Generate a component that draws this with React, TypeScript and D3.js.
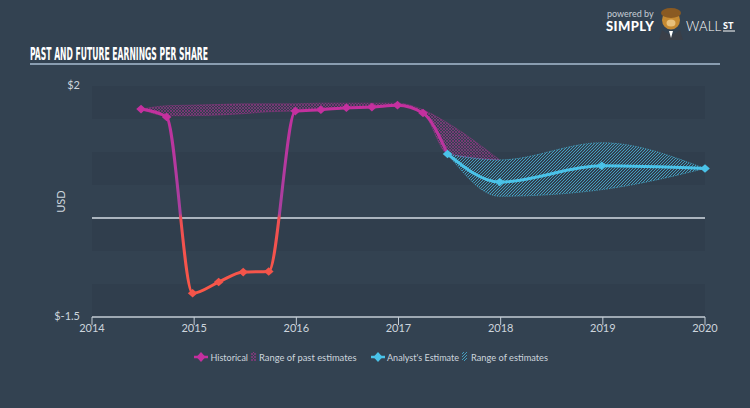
import React from "react";
import * as d3 from "d3";

const histDates = [2014.48, 2014.73, 2014.985, 2015.24, 2015.48, 2015.73, 2015.99, 2016.24, 2016.49, 2016.74, 2016.99, 2017.24, 2017.48];
const histValues = [1.65, 1.53, -1.14, -0.97, -0.82, -0.81, 1.62, 1.64, 1.67, 1.68, 1.71, 1.59, 0.97];

const pastRangeDates = [2014.48, 2014.73, 2014.985, 2015.24, 2015.48, 2015.73, 2015.99, 2016.24, 2016.49, 2016.74, 2016.99, 2017.24, 2017.48, 2017.99];
const pastRangeUpper = [1.65, 1.70, 1.71, 1.72, 1.73, 1.73, 1.73, 1.74, 1.74, 1.74, 1.74, 1.64, 1.44, 0.88];
const pastRangeLower = [1.65, 1.55, 1.55, 1.56, 1.58, 1.61, 1.62, 1.64, 1.67, 1.68, 1.71, 1.59, 0.97, 0.88];

const estDates = [2017.48, 2017.99, 2018.99, 2020.0];
const estValues = [0.97, 0.545, 0.79, 0.75];
const estUpper = [0.97, 0.88, 1.14, 0.75];
const estLower = [0.97, 0.33, 0.43, 0.75];

const yearTicks = [2014, 2015, 2016, 2017, 2018, 2019, 2020];
const yTickValues = [2, -1.5];
const yTickLabels = ["$2", "$-1.5"];

const W = 750;
const H = 408;
const BG = "#334251";
const MAG = "#c4309f";
const RED = "#f4544a";
const CYAN = "#4ac2e8";
const TXT = "#cdd5dd";

export default function App() {
  const x = d3.scaleLinear().domain([2014, 2020]).range([92, 705]);
  const y = d3.scaleLinear().domain([-1.5, 2]).range([317, 86]);

  const line = d3
    .line<[number, number]>()
    .x((d) => x(d[0]))
    .y((d) => y(d[1]))
    .curve(d3.curveMonotoneX);
  const area = d3
    .area<[number, number, number]>()
    .x((d) => x(d[0]))
    .y0((d) => y(d[2]))
    .y1((d) => y(d[1]))
    .curve(d3.curveMonotoneX);

  const histPts = histDates.map((d, i) => [d, histValues[i]] as [number, number]);
  const estPts = estDates.map((d, i) => [d, estValues[i]] as [number, number]);
  const pastRange = pastRangeDates.map((d, i) => [d, pastRangeUpper[i], pastRangeLower[i]] as [number, number, number]);
  const estRange = estDates.map((d, i) => [d, estUpper[i], estLower[i]] as [number, number, number]);

  const diamond = (cx: number, cy: number, w = 4.8, h = 4.3) =>
    `M${cx - w},${cy}L${cx},${cy - h}L${cx + w},${cy}L${cx},${cy + h}Z`;

  const bands = d3.range(7).map((i) => ({ y0: 2 - i * 0.5, y1: 2 - (i + 1) * 0.5, i }));
  const zeroOff = (y(2) - y(0)) / (y(2) - y(-1.5));

  return (
    <svg width={W} height={H} style={{ display: "block", position: "absolute", left: 0, top: 0 }}>
      <defs>
        <linearGradient id="histGrad" gradientUnits="userSpaceOnUse" x1={0} y1={y(2)} x2={0} y2={y(-1.5)}>
          <stop offset={0} stopColor="#c92d9e" />
          <stop offset={zeroOff - 0.02} stopColor="#a8409f" />
          <stop offset={zeroOff} stopColor="#ee4f52" />
          <stop offset={1} stopColor="#ff5a44" />
        </linearGradient>
        <pattern id="pastHatch" patternUnits="userSpaceOnUse" width={3} height={3}>
          <path d="M0,3L3,0M0,0L3,3" stroke={MAG} strokeWidth={0.6} opacity={0.75} />
        </pattern>
        <pattern id="estHatch" patternUnits="userSpaceOnUse" width={3} height={3}>
          <path d="M-1,1L1,-1M0,3L3,0M2,4L4,2" stroke={CYAN} strokeWidth={0.8} opacity={0.9} />
        </pattern>
      </defs>
      <rect x={0} y={0} width={W} height={H} fill={BG} />

      {/* logo */}
      <g fontFamily="Lato, 'Open Sans', sans-serif">
        <text x={607} y={17} fontSize={9} fill="#c6ced6">powered by</text>
        <text x={606} y={31} fontSize={13} fontWeight={900} fill="#ffffff" letterSpacing={0.4}>SIMPLY</text>
        <g>
          <ellipse cx={671} cy={20} rx={9} ry={9.5} fill="#c58a32" />
          <ellipse cx={671} cy={13} rx={10} ry={5} fill="#8a5a22" />
          <ellipse cx={671} cy={23} rx={4.5} ry={3.5} fill="#e8c07a" />
          <path d="M662,30 L671,36 L680,30 L683,40 L659,40 Z" fill="#3a3f48" />
          <path d="M669,31 L671,38 L673,31 Z" fill="#ffffff" />
        </g>
        <text x={686} y={31} fontSize={13} fontWeight={300} fill="#ffffff" textLength={35} lengthAdjust="spacing">WALL</text>
        <text x={723} y={29} fontSize={9} fontWeight={900} fill="#ffffff">ST</text>
        <line x1={723} y1={31} x2={735} y2={31} stroke="#ffffff" strokeWidth={1} />
      </g>

      {/* title */}
      <text
        x={30}
        y={59.5}
        fontSize={17}
        fontWeight="bold"
        fill="#ffffff"
        fontFamily="'Liberation Sans Narrow', 'DejaVu Sans Condensed', sans-serif"
        textLength={178}
        lengthAdjust="spacingAndGlyphs"
      >
        PAST AND FUTURE EARNINGS PER SHARE
      </text>
      <line x1={30} y1={64} x2={720} y2={64} stroke="#a9bdd0" strokeWidth={1.6} />

      {/* bands */}
      {bands.map((b) => (
        <rect
          key={b.i}
          x={x(2014)}
          y={y(b.y0)}
          width={x(2020) - x(2014)}
          height={y(b.y1) - y(b.y0)}
          fill={b.i % 2 === 0 ? "#303e4d" : "#334251"}
        />
      ))}

      {/* y labels */}
      <g fontFamily="Lato, 'Open Sans', sans-serif" fontSize={11} fill={TXT}>
        {yTickValues.map((v, i) => (
          <text key={v} x={80} y={y(v) + 3} textAnchor="end">
            {yTickLabels[i]}
          </text>
        ))}
        <text x={0} y={0} transform={`translate(65,${y(0.25)}) rotate(-90)`} textAnchor="middle">
          USD
        </text>
      </g>

      {/* zero line */}
      <line x1={x(2014)} x2={x(2020)} y1={y(0)} y2={y(0)} stroke="#d5dde5" strokeWidth={1.5} />

      {/* x axis */}
      <line x1={x(2014)} x2={x(2020)} y1={y(-1.5)} y2={y(-1.5)} stroke="#c3ccd5" strokeWidth={1.5} />
      <g fontFamily="Lato, 'Open Sans', sans-serif" fontSize={11} fill={TXT}>
        {yearTicks.map((t) => (
          <g key={t}>
            <line x1={x(t)} x2={x(t)} y1={y(-1.5)} y2={y(-1.5) + 8} stroke="#c3ccd5" strokeWidth={1} />
            <text x={x(t)} y={332} textAnchor="middle">
              {t}
            </text>
          </g>
        ))}
      </g>

      {/* ranges */}
      <path d={area(pastRange) || ""} fill="url(#pastHatch)" stroke={MAG} strokeOpacity={0.5} strokeWidth={0.6} />
      <path d={area(estRange) || ""} fill="url(#estHatch)" stroke={CYAN} strokeOpacity={0.7} strokeWidth={0.8} strokeDasharray="1.5,1" />

      {/* historical */}
      <path d={line(histPts) || ""} fill="none" stroke="url(#histGrad)" strokeWidth={3} />
      {histPts.slice(0, -1).map((p, i) => (
        <path key={i} d={diamond(x(p[0]), y(p[1]))} fill={p[1] >= 0 ? MAG : RED} />
      ))}

      {/* estimate */}
      <path d={line(estPts) || ""} fill="none" stroke={CYAN} strokeWidth={3} />
      {estPts.map((p, i) => (
        <path key={i} d={diamond(x(p[0]), y(p[1]))} fill={CYAN} />
      ))}

      {/* legend */}
      <g fontFamily="Lato, 'Open Sans', sans-serif" fontSize={10} fill={TXT}>
        <line x1={194} x2={208} y1={357} y2={357} stroke={MAG} strokeWidth={2.5} />
        <path d={diamond(201, 357, 4.5, 5)} fill={MAG} />
        <text x={210.5} y={360.5} textLength={37.5} lengthAdjust="spacingAndGlyphs">Historical</text>
        <rect x={251} y={352} width={5} height={9} fill="url(#pastHatch)" />
        <text x={259} y={360.5} textLength={97.5} lengthAdjust="spacingAndGlyphs">Range of past estimates</text>
        <line x1={371} x2={385} y1={357} y2={357} stroke={CYAN} strokeWidth={2.5} />
        <path d={diamond(378, 357, 4.5, 5)} fill={CYAN} />
        <text x={387} y={360.5} textLength={72} lengthAdjust="spacingAndGlyphs">Analyst's Estimate</text>
        <rect x={462} y={352} width={5} height={9} fill="url(#estHatch)" />
        <text x={471} y={360.5} textLength={77} lengthAdjust="spacingAndGlyphs">Range of estimates</text>
      </g>
    </svg>
  );
}
